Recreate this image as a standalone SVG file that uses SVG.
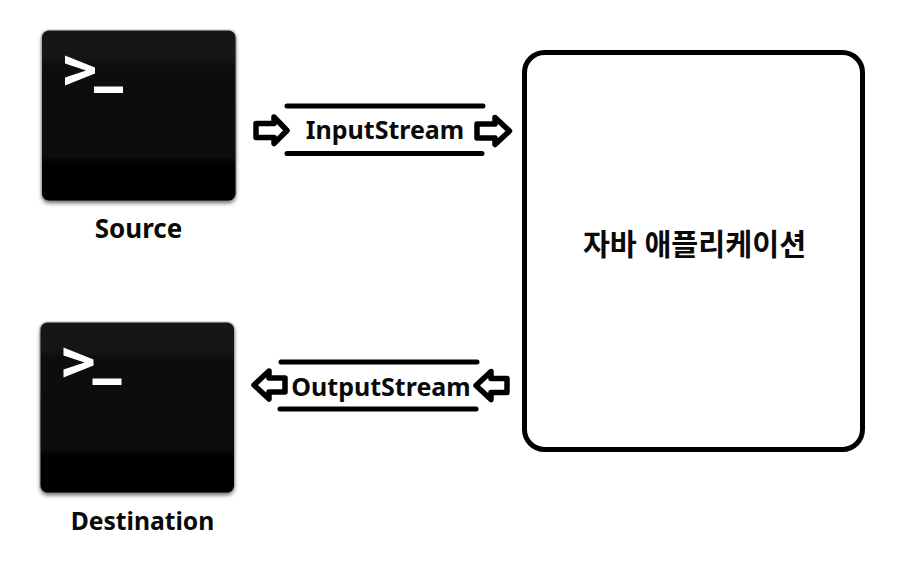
<svg xmlns="http://www.w3.org/2000/svg" width="902" height="563" viewBox="0 0 902 563">
<style>
text{font-family:"Noto Sans","Noto Sans CJK KR",sans-serif;font-weight:700;fill:#0a0a0a;text-anchor:middle}
.lbl{font-size:25px}
.ar{fill:#fff;stroke:#000;stroke-width:5.500;stroke-linejoin:round}
.ln{stroke:#000;stroke-width:5;stroke-linecap:round;fill:none}
.glyph{fill:#fff}
</style>
<defs>
<linearGradient id="term" x1="0" y1="0" x2="0" y2="1"><stop offset="0" stop-color="#151515"/><stop offset="1" stop-color="#020202"/></linearGradient>
<filter id="sh" x="-10%" y="-10%" width="120%" height="120%"><feDropShadow dx="0" dy="2.500" stdDeviation="2" flood-color="#000" flood-opacity=".6"/></filter>
<g id="icon">
<rect x="-1.500" y="-1.500" width="196.500" height="172" rx="8" fill="#d5e6ec"/>
<rect x="0" y="0" width="193.500" height="170" rx="7" fill="url(#term)" filter="url(#sh)"/>
<path class="glyph" d="M23,25 L53,37 V43 L23,55 V47 L44,40 L23,33Z"/>
<rect class="glyph" x="52" y="56" width="29" height="6.500"/>
</g>
</defs>
<rect width="902" height="563" fill="#fff"/>
<g id="source"><use href="#icon" x="42" y="30.500"/><text class="lbl" style="font-size:26px" x="138.500" y="237.500">Source</text></g>
<g id="destination"><use href="#icon" x="40.500" y="322.500"/><text class="lbl" style="font-size:24.700px" x="142.500" y="529.500">Destination</text></g>
<g id="application"><rect x="524.500" y="52.500" width="338" height="397" rx="20" fill="#fff" stroke="#000" stroke-width="5"/><text class="lbl" style="font-size:29.300px" x="694.500" y="255">자바 애플리케이션</text></g>
<g id="connectors">
<path class="ln" d="M287,106H483M287,153.500H482"/>
<path class="ar" d="M256,123.500H274V117L287,130.500L274,143.500V137.500H256Z"/>
<path class="ar" d="M477,124H495V117.500L509.500,131L495,144.500V138H477Z"/>
<text class="lbl" x="385" y="139">InputStream</text>
<path class="ln" d="M281,362H477M280,409H476"/>
<path class="ar" d="M285,378H269V371L254,385L269,399V392H285Z"/>
<path class="ar" d="M507,378.500H491V371.500L476,385.500L491,399.500V392.500H507Z"/>
<text class="lbl" x="381" y="396">OutputStream</text>
</g>
</svg>
